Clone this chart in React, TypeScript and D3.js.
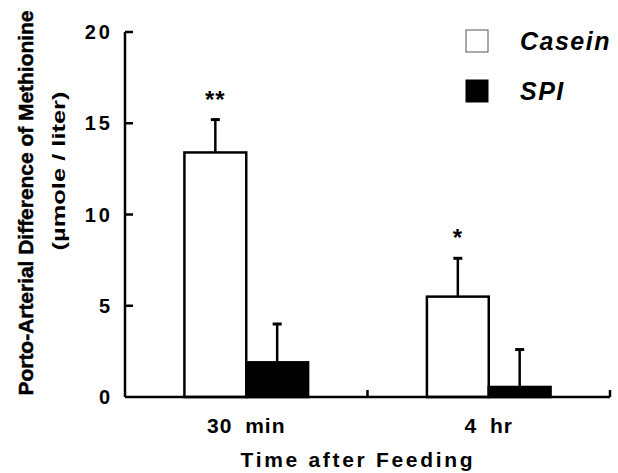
import React from 'react';
import * as d3 from 'd3';

// chart data
const categories = ['30 min', '4 hr'];
const series = ['Casein', 'SPI'];
const caseinMeans = [13.4, 5.5];
const caseinErrors = [1.8, 2.1];
const spiMeans = [1.9, 0.55];
const spiErrors = [2.1, 2.05];
const significance = ['**', '*'];
const yTicks = [0, 5, 10, 15, 20];

const svgWidth = 618;
const svgHeight = 473;
const margin = { left: 125, right: 8, top: 32, bottom: 76 };
const width = svgWidth - margin.left - margin.right;
const height = svgHeight - margin.top - margin.bottom;

const font = '"Liberation Sans", Arial, Helvetica, sans-serif';
const fills: Record<string, string> = { Casein: '#fff', SPI: '#000' };

const translate = (x: number, y: number) => 'translate(' + x + ',' + y + ')';

const App = () => {
  const xScale = d3.scaleBand<string>().domain(categories).range([0, width])
    .paddingInner(0.49).paddingOuter(0.245);
  const inner = d3.scaleBand<string>().domain(series).range([0, xScale.bandwidth()]);
  const yScale = d3.scaleLinear().domain([0, 20]).range([height, 0]);

  const bars = categories.flatMap((c, i) => [
    { cat: c, s: 'Casein', v: caseinMeans[i], e: caseinErrors[i] },
    { cat: c, s: 'SPI', v: spiMeans[i], e: spiErrors[i] },
  ]);

  const capW = 9;

  return (
    <svg width={svgWidth} height={svgHeight}
      style={{ position: 'absolute', left: 0, top: 0, background: '#fff' }}
      fontFamily={font} fontWeight="bold">
      <g transform={translate(margin.left, margin.top)}>
        {/* bars */}
        {bars.map((d, i) => {
          const x = (xScale(d.cat) as number) + (inner(d.s) as number);
          const cx = x + inner.bandwidth() / 2;
          return (
            <g key={i}>
              <line x1={cx} x2={cx} y1={yScale(d.v)} y2={yScale(d.v + d.e)} stroke="#000" strokeWidth={2.5} />
              <line x1={cx - capW / 2} x2={cx + capW / 2} y1={yScale(d.v + d.e)} y2={yScale(d.v + d.e)} stroke="#000" strokeWidth={3} />
              <rect x={x} y={yScale(d.v)} width={inner.bandwidth()} height={height - yScale(d.v)}
                fill={fills[d.s]} stroke="#000" strokeWidth={2.5} />
            </g>
          );
        })}
        {/* significance marks */}
        {categories.map((c, i) => (
          <text key={c} x={(xScale(c) as number) + (inner('Casein') as number) + inner.bandwidth() / 2}
            y={yScale(caseinMeans[i] + caseinErrors[i]) - 12} textAnchor="middle" fontSize={24} letterSpacing={1}>
            {significance[i]}
          </text>
        ))}
        {/* y axis */}
        <line x1={0} x2={0} y1={0} y2={height} stroke="#000" strokeWidth={2.5} />
        {yTicks.map(t => (
          <g key={t} transform={translate(0, yScale(t))}>
            {t > 0 && <line x1={0} x2={8} stroke="#000" strokeWidth={2.5} />}
            <text x={-12} textAnchor="end" dominantBaseline="central" fontSize={20} letterSpacing={3}>
              {t}
            </text>
          </g>
        ))}
        {/* x axis */}
        <line x1={0} x2={width} y1={height} y2={height} stroke="#000" strokeWidth={2.5} />
        <line x1={width / 2} x2={width / 2} y1={height} y2={height - 7} stroke="#000" strokeWidth={2.5} />
        <line x1={width} x2={width} y1={height} y2={height - 7} stroke="#000" strokeWidth={2.5} />
        {categories.map(c => (
          <text key={c} x={(xScale(c) as number) + xScale.bandwidth() / 2} y={height + 36}
            textAnchor="middle" fontSize={21} wordSpacing={6} letterSpacing={1}>
            {c}
          </text>
        ))}
        <text x={width / 2 - 11} y={height + 70} textAnchor="middle" fontSize={21}
          textLength={232} lengthAdjust="spacing">
          Time after Feeding
        </text>
      </g>
      {/* y axis title */}
      <text transform={translate(25, 203) + ' rotate(-90)'} textAnchor="middle" dominantBaseline="central"
        fontSize={21} fontWeight="bold" textLength={385} lengthAdjust="spacingAndGlyphs"
        stroke="#000" strokeWidth={0.5}>
        Porto-Arterial Difference of Methionine
      </text>
      <text transform={translate(58, 171) + ' rotate(-90)'} textAnchor="middle" dominantBaseline="central"
        fontSize={19} fontWeight="bold" textLength={159} lengthAdjust="spacingAndGlyphs">
        (µmole / liter)
      </text>
      {/* legend */}
      {series.map((s, i) => (
        <g key={s} transform={translate(466, 30 + i * 50)}>
          <rect width={22} height={22} fill={fills[s]} stroke={s === 'Casein' ? '#555' : '#000'} strokeWidth={1} />
          <text x={54} y={20} fontSize={25} fontStyle="italic" letterSpacing={1.5}>{s}</text>
        </g>
      ))}
    </svg>
  );
};

export default App;
